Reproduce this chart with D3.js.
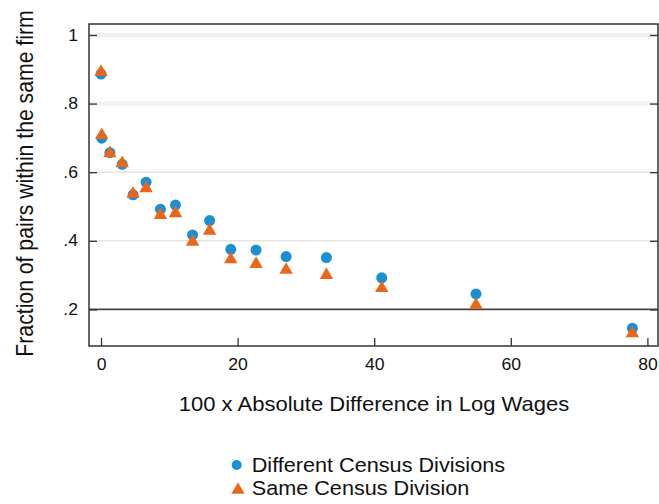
<!DOCTYPE html>
<html>
<head>
<meta charset="utf-8">
<script src="https://cdn.jsdelivr.net/npm/d3@7/dist/d3.min.js"></script>
<style>
  html, body { margin: 0; padding: 0; background: #fff; }
  svg { display: block; font-family: "Liberation Sans", Arial, sans-serif; }
</style>
</head>
<body>
<svg id="chart" width="659" height="504"></svg>
<script>
// Wage-gap bins (100 x |Δ log wage|)
const wageGap = [0, 0.1, 1.3, 3.1, 4.7, 6.6, 8.7, 10.9, 13.4, 15.9, 19.0, 22.7, 27.1, 33.0, 41.1, 54.9, 77.8];
// Share of pairs within the same firm
const differentDivisions = [0.886, 0.699, 0.657, 0.623, 0.534, 0.571, 0.492, 0.504, 0.417, 0.459, 0.375, 0.373, 0.354, 0.351, 0.292, 0.245, 0.145];
const sameDivision       = [0.892, 0.708, 0.655, 0.626, 0.537, 0.553, 0.475, 0.480, 0.397, 0.429, 0.346, 0.332, 0.315, 0.300, 0.262, 0.213, 0.130];
const xTicks = [0, 20, 40, 60, 80];
const yTicks = [0.2, 0.4, 0.6, 0.8, 1];
const seriesNames = ["Different Census Divisions", "Same Census Division"];
const colors = ["#1b8fd4", "#e8671b"];

const svg = d3.select("#chart");
const m = { left: 89, top: 24, right: 658, bottom: 346 };
const WIDE = 1.1; // slightly wide lettering

const x = d3.scaleLinear().domain([-1.76, 81.55]).range([m.left, m.right]);
const y = d3.scaleLinear().domain([0.0933, 1.032]).range([m.bottom, m.top]);

// Horizontal grid lines
svg.append("g").selectAll("line").data(yTicks).join("line")
  .attr("x1", m.left).attr("x2", m.right)
  .attr("y1", d => y(d)).attr("y2", d => y(d))
  .attr("stroke", d => d === 0.2 ? "#444" : "#e4e4e4")
  .attr("stroke-width", d => d === 0.2 ? 1.6 : (d >= 0.8 ? 4 : 1.5))
  .attr("opacity", d => d >= 0.8 ? 0.55 : 1);

// Plot frame
svg.append("rect")
  .attr("x", m.left).attr("y", m.top)
  .attr("width", m.right - m.left).attr("height", m.bottom - m.top)
  .attr("fill", "none").attr("stroke", "#333").attr("stroke-width", 1.5);

// Axes with inward ticks
const fmtY = d => d === 1 ? "1" : d3.format(".1f")(d).replace(/^0/, "");
const yAxis = svg.append("g").attr("transform", `translate(${m.left},0)`)
  .call(d3.axisRight(y).tickValues(yTicks).tickSize(8).tickFormat(fmtY));
yAxis.select(".domain").remove();
yAxis.selectAll("line").attr("stroke", "#333").attr("stroke-width", 1.3);
yAxis.selectAll("text").attr("x", -10).attr("text-anchor", "end")
  .attr("font-size", 16).attr("fill", "#111")
  .attr("transform", `scale(${WIDE},1)`);

const yAxisR = svg.append("g").attr("transform", `translate(${m.right},0)`)
  .call(d3.axisLeft(y).tickValues(yTicks).tickSize(8).tickFormat(""));
yAxisR.select(".domain").remove();
yAxisR.selectAll("line").attr("stroke", "#333").attr("stroke-width", 1.3);

const xAxis = svg.append("g").attr("transform", `translate(0,${m.bottom})`)
  .call(d3.axisTop(x).tickValues(xTicks).tickSize(8).tickFormat(d3.format("d")));
xAxis.select(".domain").remove();
xAxis.selectAll("line").attr("stroke", "#333").attr("stroke-width", 1.3);
xAxis.selectAll("text").attr("y", 24).attr("dy", 0)
  .attr("font-size", 16).attr("fill", "#111")
  .attr("transform", `scale(${WIDE},1)`);

// Axis titles
svg.append("text")
  .attr("transform", `translate(374,410.5) scale(1.075,1)`)
  .attr("text-anchor", "middle").attr("font-size", 20.5).attr("fill", "#111")
  .text("100 x Absolute Difference in Log Wages");
svg.append("text")
  .attr("transform", "translate(33,183.5) scale(1.12,1) rotate(-90)")
  .attr("text-anchor", "middle").attr("font-size", 21.2).attr("fill", "#111")
  .text("Fraction of pairs within the same firm");

// Markers
const circle = d3.symbol().type(d3.symbolCircle).size(95);
const tri = d3.symbol().type(d3.symbolTriangle).size(78);

svg.append("g").selectAll("path").data(wageGap.map((g, i) => [g, differentDivisions[i]])).join("path")
  .attr("d", circle)
  .attr("transform", d => `translate(${x(d[0])},${y(d[1])})`)
  .attr("fill", colors[0]);

svg.append("g").selectAll("path").data(wageGap.map((g, i) => [g, sameDivision[i]])).join("path")
  .attr("d", tri)
  .attr("transform", d => `translate(${x(d[0])},${y(d[1])})`)
  .attr("fill", colors[1]);

// Legend
const legend = svg.append("g");
const lg = [{ sym: d3.symbol().type(d3.symbolCircle).size(79), c: colors[0], t: seriesNames[0], cx: 236.7, cy: 465, ty: 472.3 },
            { sym: d3.symbol().type(d3.symbolTriangle).size(76), c: colors[1], t: seriesNames[1], cx: 238, cy: 490, ty: 495 }];
legend.selectAll("path").data(lg).join("path")
  .attr("d", d => d.sym())
  .attr("transform", d => `translate(${d.cx},${d.cy})`)
  .attr("fill", d => d.c);
legend.selectAll("text").data(lg).join("text")
  .attr("transform", d => `translate(251.7,${d.ty}) scale(1.11,1)`)
  .attr("font-size", 19.5).attr("fill", "#111")
  .text(d => d.t);
</script>
</body>
</html>
